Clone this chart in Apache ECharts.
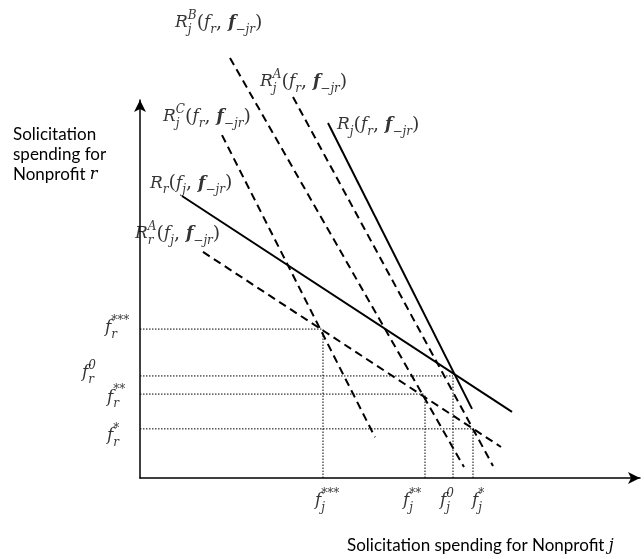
<!DOCTYPE html>
<html>
<head>
<meta charset="utf-8">
<script src="https://cdn.jsdelivr.net/npm/echarts@6/dist/echarts.min.js"></script>
<style>html,body{margin:0;padding:0;background:#fff;}#chart{width:644px;height:559px;}</style>
</head>
<body>
<div id="chart"></div>
<script>
// Reaction curves (axis units 0..100), endpoints
const curveNames = ['RjB', 'RjA', 'RjC', 'Rj', 'Rr', 'RrA'];
const curveX = [[18, 64.8], [30.6, 70.6], [16.4, 47], [37.6, 66.4], [8.4, 74.4], [12.6, 72.2]];
const curveY = [[111.1, 2.9], [100.8, 3.2], [90.7, 10.8], [93.9, 18.3], [74.6, 17.5], [59.8, 8.2]];
const curveDashed = [true, true, true, false, false, true];

// Equilibrium points (f_j, f_r)
const eqMarks = ['***', '**', '0', '*'];
const eqX = [36.6, 57, 62.6, 66.6];
const eqY = [39.4, 22.2, 27, 13];

// Curve label anchors (left-middle of each label)
const curveLabelX = [7, 24, 4.6, 39.4, 2, -1];
const curveLabelY = [120.4, 104.8, 95.5, 93.4, 78, 64.6];
const curveLabelBase = ['j', 'j', 'j', 'j', 'r', 'r'];
const curveLabelSup = ['B', 'A', 'C', '', '', 'A'];
const curveLabelArg = ['r', 'r', 'r', 'r', 'j', 'j'];

// Tick label anchors for f_r (y axis) and f_j (x axis), same order as eqMarks
const frLabelX = [-7, -6.6, -11.6, -6.6];
const frLabelY = [39.7, 21.4, 27.8, 11.1];
const fjLabelX = [35, 52.6, 60, 66.4];
const fjLabelY = [-6.1, -6.1, -6.1, -6.1];

function subsup(sub, sup) {
  if (!sup) return '{sub|' + sub + '}';
  return '{sub0|' + sub + '}{sup|' + sup + '}';
}
function curveText(i) {
  return '{it|R}' + subsup(curveLabelBase[i], curveLabelSup[i]) +
    '{up|(}{it|f}{sub|' + curveLabelArg[i] + '}{up|, }{bf|f}{sub|\u2212jr}{up|)}';
}
function fText(base, mark) {
  return '{it|f}' + subsup(base, mark);
}

const labelTexts = [];
const labelData = [];
for (let i = 0; i < curveNames.length; i++) {
  labelData.push([curveLabelX[i], curveLabelY[i]]);
  labelTexts.push(curveText(i));
}
for (let i = 0; i < eqMarks.length; i++) {
  labelData.push([frLabelX[i], frLabelY[i]]);
  labelTexts.push(fText('r', eqMarks[i]));
}
for (let i = 0; i < eqMarks.length; i++) {
  labelData.push([fjLabelX[i], fjLabelY[i]]);
  labelTexts.push(fText('j', eqMarks[i]));
}

const serif = 'DejaVu Serif';
const rich = {
  it: {fontFamily: serif, fontStyle: 'italic', fontSize: 17, lineHeight: 26, verticalAlign: 'middle', color: '#000'},
  bf: {fontFamily: serif, fontStyle: 'italic', fontWeight: 'bold', fontSize: 17, lineHeight: 26, verticalAlign: 'middle', color: '#000'},
  up: {fontFamily: serif, fontSize: 19, lineHeight: 26, verticalAlign: 'middle', color: '#000'},
  sub: {fontFamily: serif, fontStyle: 'italic', fontSize: 12, lineHeight: 12, verticalAlign: 'bottom', color: '#000'},
  sub0: {fontFamily: serif, fontStyle: 'italic', fontSize: 12, lineHeight: 12, verticalAlign: 'bottom', width: 0, color: '#000'},
  sup: {fontFamily: serif, fontStyle: 'italic', fontSize: 12, lineHeight: 12, verticalAlign: 'top', color: '#000'}
};

const series = [];
for (let i = 0; i < curveNames.length; i++) {
  series.push({
    name: curveNames[i], type: 'line', clip: false, symbol: 'none', silent: true,
    data: [[curveX[i][0], curveY[i][0]], [curveX[i][1], curveY[i][1]]],
    lineStyle: {color: '#000', width: 2, type: curveDashed[i] ? [8, 5] : 'solid'}
  });
}
for (let i = 0; i < eqMarks.length; i++) {
  series.push({
    type: 'line', clip: false, symbol: 'none', silent: true,
    data: [[0, eqY[i]], [eqX[i], eqY[i]]],
    lineStyle: {color: '#000', width: 1, type: [1.5, 1.5]}
  });
  series.push({
    type: 'line', clip: false, symbol: 'none', silent: true,
    data: [[eqX[i], 0], [eqX[i], eqY[i]]],
    lineStyle: {color: '#000', width: 1, type: [1.5, 1.5]}
  });
}
series.push({
  type: 'scatter', clip: false, silent: true, symbolSize: 0.1,
  itemStyle: {color: 'rgba(0,0,0,0)'},
  data: labelData,
  label: {
    show: true, position: 'right', distance: 0,
    formatter: function (p) { return labelTexts[p.dataIndex]; },
    rich: rich
  }
});

const titleRich = {
  a: {fontFamily: 'Lato', fontSize: 17, fontWeight: 'normal', lineHeight: 20, color: '#000'},
  m: {fontFamily: serif, fontStyle: 'italic', fontWeight: 'normal', fontSize: 16, lineHeight: 20, color: '#000'}
};

const chart = echarts.init(document.getElementById('chart'), null, {renderer: 'canvas'});
chart.setOption({
  animation: false,
  backgroundColor: '#fff',
  title: [
    {
      left: 13, top: 125, padding: 0,
      text: '{a|Solicitation}\n{a|spending for}\n{a|Nonprofit }{m|r}',
      textStyle: {fontWeight: 'normal', rich: titleRich}
    },
    {
      left: 347, top: 536, padding: 0,
      text: '{a|Solicitation spending for Nonprofit }{m|j}',
      textStyle: {fontWeight: 'normal', rich: titleRich}
    }
  ],
  grid: {left: 140, right: 4, top: 100, bottom: 81, containLabel: false},
  xAxis: {
    type: 'value', min: 0, max: 100,
    axisLine: {show: true, lineStyle: {color: '#000', width: 1.5}, symbol: ['none', 'arrow'], symbolSize: [9, 12]},
    axisTick: {show: false}, axisLabel: {show: false}, splitLine: {show: false}
  },
  yAxis: {
    type: 'value', min: 0, max: 100,
    axisLine: {show: true, lineStyle: {color: '#000', width: 1.5}, symbol: ['none', 'arrow'], symbolSize: [9, 12]},
    axisTick: {show: false}, axisLabel: {show: false}, splitLine: {show: false}
  },
  series: series
});
</script>
</body>
</html>
